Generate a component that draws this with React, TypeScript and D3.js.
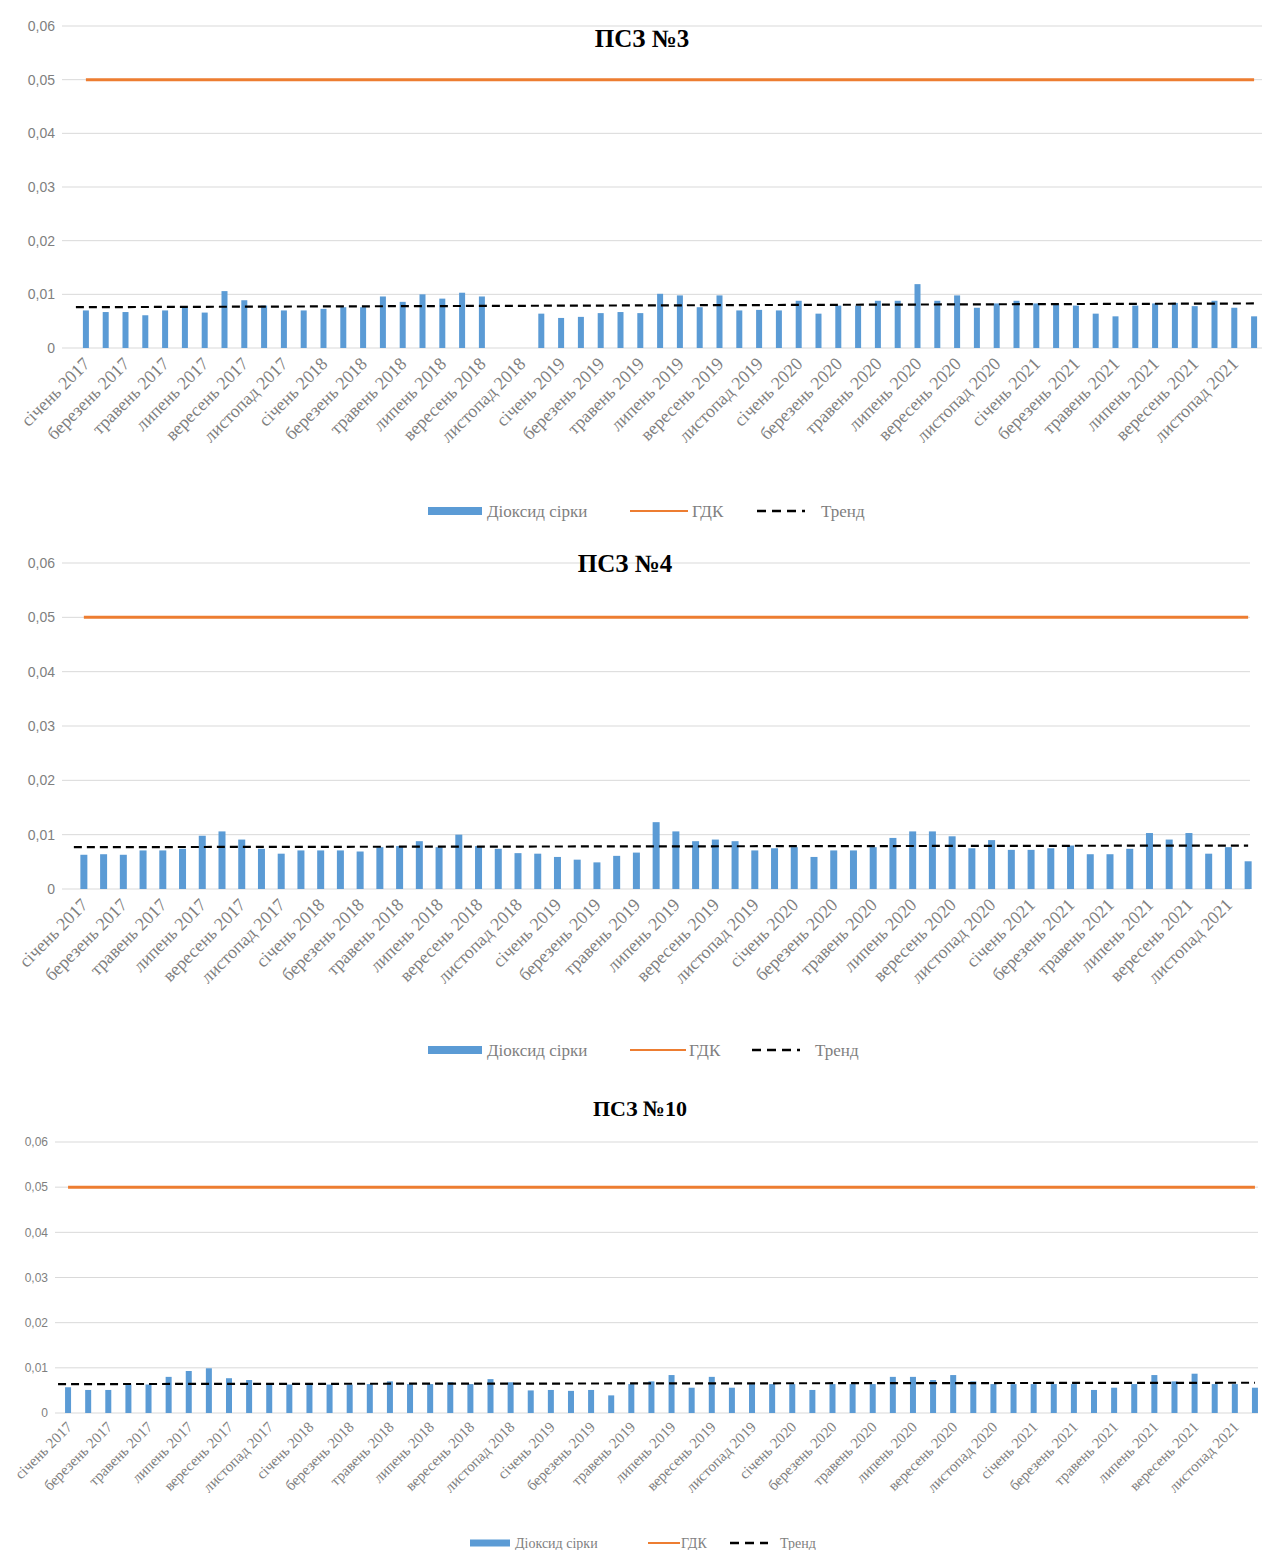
import * as d3 from "d3";

const monthNames = ["січень", "лютий", "березень", "квітень", "травень", "червень", "липень", "серпень", "вересень", "жовтень", "листопад", "грудень"];
const years = [2017, 2018, 2019, 2020, 2021];
const categories = years.flatMap(y => monthNames.map(m => `${m} ${y}`));

const yTicks = [0, 0.01, 0.02, 0.03, 0.04, 0.05, 0.06];
const gdk = 0.05;

// ПСЗ №3 (жовтень, листопад 2018 - немає даних)
const psz3 = [
  0.0070, 0.0067, 0.0067, 0.0061, 0.0070, 0.0075, 0.0066, 0.0106, 0.0089, 0.0079, 0.0070, 0.0070,
  0.0073, 0.0076, 0.0076, 0.0096, 0.0086, 0.0100, 0.0092, 0.0103, 0.0096, null, null, 0.0064,
  0.0056, 0.0058, 0.0065, 0.0067, 0.0065, 0.0101, 0.0098, 0.0076, 0.0098, 0.0070, 0.0071, 0.0070,
  0.0088, 0.0064, 0.0079, 0.0079, 0.0088, 0.0088, 0.0119, 0.0088, 0.0098, 0.0075, 0.0083, 0.0088,
  0.0083, 0.0081, 0.0079, 0.0064, 0.0059, 0.0079, 0.0083, 0.0084, 0.0078, 0.0088, 0.0075, 0.0059,
];
const psz3Trend = [0.0076, 0.0083];

const psz4 = [
  0.0063, 0.0064, 0.0063, 0.0071, 0.0071, 0.0074, 0.0098, 0.0106, 0.0091, 0.0074, 0.0065, 0.0071,
  0.0071, 0.0071, 0.0069, 0.0077, 0.0079, 0.0088, 0.0077, 0.0100, 0.0079, 0.0074, 0.0066, 0.0065,
  0.0059, 0.0054, 0.0049, 0.0061, 0.0067, 0.0123, 0.0106, 0.0088, 0.0091, 0.0088, 0.0071, 0.0075,
  0.0077, 0.0059, 0.0071, 0.0071, 0.0077, 0.0094, 0.0106, 0.0106, 0.0097, 0.0075, 0.0090, 0.0072,
  0.0072, 0.0075, 0.0080, 0.0064, 0.0064, 0.0074, 0.0103, 0.0091, 0.0103, 0.0065, 0.0077, 0.0051,
];
const psz4Trend = [0.0077, 0.0080];

const psz10 = [
  0.0057, 0.0051, 0.0051, 0.0063, 0.0063, 0.0080, 0.0093, 0.0099, 0.0077, 0.0073, 0.0063, 0.0063,
  0.0063, 0.0063, 0.0063, 0.0064, 0.0070, 0.0064, 0.0064, 0.0068, 0.0064, 0.0075, 0.0068, 0.0050,
  0.0051, 0.0049, 0.0051, 0.0039, 0.0064, 0.0070, 0.0084, 0.0056, 0.0080, 0.0056, 0.0064, 0.0064,
  0.0064, 0.0051, 0.0064, 0.0064, 0.0064, 0.0080, 0.0080, 0.0073, 0.0084, 0.0070, 0.0064, 0.0064,
  0.0064, 0.0064, 0.0064, 0.0051, 0.0056, 0.0064, 0.0084, 0.0070, 0.0087, 0.0064, 0.0064, 0.0056,
];
const psz10Trend = [0.0064, 0.0067];

const legendLabels = ["Діоксид сірки", "ГДК", "Тренд"];

const BLUE = "#5b9bd5";
const ORANGE = "#ed7d31";
const GRID = "#d9d9d9";
const TEXT = "#7f7f7f";
const SERIF = "'Liberation Serif', 'Times New Roman', serif";
const SANS = "'Liberation Sans', Arial, sans-serif";

const charts = [
  {
    title: "ПСЗ №3", values: psz3, trend: psz3Trend,
    titleX: 642, titleY: 47, titleSize: 25,
    x0: 76, x1: 1264, gridX0: 62, gridX1: 1262, yBottom: 348, yTop: 26,
    yLabelX: 55, yLabelSize: 14, xLabelSize: 18, xLabelDy: 17, barW: 6,
    legend: { y: 511, sw: [428, 482], t1: 487, or: [630, 688], t2: 692, da: [757, 805], t3: 821, size: 17, swH: 8 },
  },
  {
    title: "ПСЗ №4", values: psz4, trend: psz4Trend,
    titleX: 625, titleY: 572, titleSize: 25,
    x0: 74, x1: 1258, gridX0: 62, gridX1: 1250, yBottom: 889, yTop: 563,
    yLabelX: 55, yLabelSize: 14, xLabelSize: 18, xLabelDy: 17, barW: 7,
    legend: { y: 1050, sw: [428, 482], t1: 487, or: [630, 686], t2: 689, da: [752, 800], t3: 815, size: 17, swH: 8 },
  },
  {
    title: "ПСЗ №10", values: psz10, trend: psz10Trend,
    titleX: 640, titleY: 1116, titleSize: 22,
    x0: 58, x1: 1265, gridX0: 55, gridX1: 1258, yBottom: 1413, yTop: 1142,
    yLabelX: 48, yLabelSize: 12, xLabelSize: 15, xLabelDy: 15, barW: 6,
    legend: { y: 1543, sw: [470, 510], t1: 515, or: [648, 680], t2: 681, da: [730, 768], t3: 780, size: 14, swH: 7 },
  },
];

function Chart({ c }: { c: any }) {
  const x = d3.scaleBand<string>().domain(categories).range([c.x0, c.x1]);
  const y = d3.scaleLinear().domain([0, 0.06]).range([c.yBottom, c.yTop]);
  const cx = (k: string) => (x(k) as number) + x.bandwidth() / 2;
  const first = categories[0];
  const last = categories[categories.length - 1];
  const fmt = (v: number) => (v === 0 ? "0" : d3.format(".2f")(v).replace(".", ","));
  const L = c.legend;

  return (
    <g>
      {yTicks.map(t => (
        <g key={t}>
          <line x1={c.gridX0} x2={c.gridX1} y1={y(t)} y2={y(t)} stroke={GRID} strokeWidth={1} />
          <text x={c.yLabelX} y={y(t)} dy="0.35em" textAnchor="end" fontFamily={SANS} fontSize={c.yLabelSize} fill={TEXT}>
            {fmt(t)}
          </text>
        </g>
      ))}
      {c.values.map((v: number | null, i: number) =>
        v == null ? null : (
          <rect key={i} x={cx(categories[i]) - c.barW / 2} width={c.barW} y={y(v)} height={y(0) - y(v)} fill={BLUE} />
        )
      )}
      <line x1={cx(first)} x2={cx(last)} y1={y(gdk)} y2={y(gdk)} stroke={ORANGE} strokeWidth={3} />
      <line x1={cx(first) - 10} x2={cx(last)} y1={y(c.trend[0])} y2={y(c.trend[1])} stroke="#000" strokeWidth={2.2} strokeDasharray="8,5" />
      {categories.map((k, i) =>
        i % 2 === 0 ? (
          <text key={k} transform={`translate(${cx(k) + 5},${c.yBottom + c.xLabelDy}) rotate(-45)`} textAnchor="end"
            fontFamily={SERIF} fontSize={c.xLabelSize} fill={TEXT}>
            {k}
          </text>
        ) : null
      )}
      <text x={c.titleX} y={c.titleY} textAnchor="middle" fontFamily={SERIF} fontWeight="bold" fontSize={c.titleSize} fill="#000">
        {c.title}
      </text>
      <g fontFamily={SERIF} fontSize={L.size} fill={TEXT}>
        <rect x={L.sw[0]} y={L.y - L.swH / 2} width={L.sw[1] - L.sw[0]} height={L.swH} fill={BLUE} />
        <text x={L.t1} y={L.y} dy="0.35em">{legendLabels[0]}</text>
        <line x1={L.or[0]} x2={L.or[1]} y1={L.y} y2={L.y} stroke={ORANGE} strokeWidth={2} />
        <text x={L.t2} y={L.y} dy="0.35em">{legendLabels[1]}</text>
        <line x1={L.da[0]} x2={L.da[1]} y1={L.y} y2={L.y} stroke="#000" strokeWidth={2.5} strokeDasharray="9,6" />
        <text x={L.t3} y={L.y} dy="0.35em">{legendLabels[2]}</text>
      </g>
    </g>
  );
}

export default function App() {
  return (
    <svg width={1262} height={1550} style={{ position: "absolute", left: 0, top: 0, background: "#fff" }}>
      <rect width={1262} height={1550} fill="#fff" />
      {charts.map(c => (
        <Chart key={c.title} c={c} />
      ))}
    </svg>
  );
}
